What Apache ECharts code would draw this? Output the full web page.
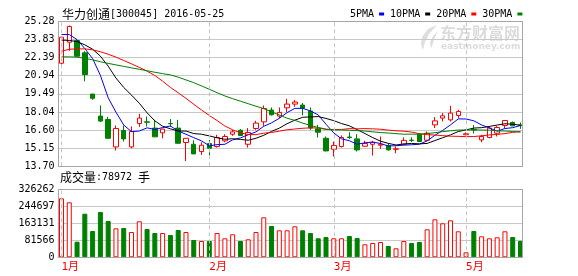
<!DOCTYPE html>
<html><head><meta charset="utf-8">
<script src="https://cdn.jsdelivr.net/npm/echarts@6/dist/echarts.min.js"></script>
<style>html,body{margin:0;padding:0;background:#fff}#c{width:578px;height:276px}</style>
</head><body><div id="c"></div>
<script>
// ---------- data ----------
const dates = [
 '2016-01-05','2016-01-06','2016-01-07','2016-01-08','2016-01-11','2016-01-12','2016-01-13','2016-01-14','2016-01-15','2016-01-18',
 '2016-01-19','2016-01-20','2016-01-21','2016-01-22','2016-01-25','2016-01-26','2016-01-27','2016-01-28','2016-01-29',
 '2016-02-01','2016-02-02','2016-02-03','2016-02-04','2016-02-05','2016-02-15','2016-02-16','2016-02-17','2016-02-18','2016-02-19',
 '2016-02-22','2016-02-23','2016-02-24','2016-02-25','2016-02-26','2016-02-29',
 '2016-03-01','2016-03-02','2016-03-03','2016-03-04','2016-03-07','2016-03-08','2016-03-09','2016-03-10','2016-03-11','2016-03-14',
 '2016-03-15','2016-03-16','2016-03-17','2016-03-18','2016-03-21','2016-03-22','2016-03-23',
 '2016-05-16','2016-05-17','2016-05-18','2016-05-19','2016-05-20','2016-05-23','2016-05-24','2016-05-25'
];
const opens = [21.93,23.61,23.74,22.76,19.47,17.71,17.44,15.25,16.56,15.25,
 17.12,17.25,16.75,16.37,17.12,16.75,15.60,15.46,14.88,15.52,
 15.28,15.73,16.26,16.58,15.46,16.72,17.25,18.19,17.71,18.37,
 18.67,18.59,18.11,16.69,15.94,15.06,15.28,16.04,15.89,15.30,
 15.46,15.38,15.36,15.06,15.46,15.79,16.26,15.78,17.01,17.55,
 17.41,17.76,16.22,16.64,15.81,16.00,16.34,16.96,17.20,17.00];
const closes = [24.01,24.86,22.49,21.02,19.13,17.31,15.94,16.72,15.89,16.48,
 17.55,17.22,16.05,16.67,17.10,15.54,15.94,14.69,15.38,15.14,
 16.00,16.08,16.45,16.16,16.40,17.15,18.32,17.81,18.00,18.67,
 18.83,18.35,16.75,16.42,14.93,15.36,16.00,16.00,15.01,15.52,
 15.62,15.46,15.01,15.10,15.77,15.76,15.68,16.34,17.33,17.73,
 17.95,18.08,16.30,16.60,16.08,16.75,16.80,17.36,16.93,16.96];
const lows = [21.82,22.92,22.45,20.49,19.01,17.25,15.90,14.96,15.68,15.14,
 16.85,16.88,16.05,15.94,16.85,15.50,14.12,14.69,14.61,14.56,
 15.20,15.62,16.13,16.14,15.20,16.61,16.93,17.76,17.55,18.03,
 18.45,17.76,16.61,16.00,14.90,14.48,15.20,15.89,14.88,15.28,
 14.56,15.09,14.96,14.74,15.44,15.65,15.66,15.73,16.75,17.28,
 17.28,17.55,16.18,16.32,15.62,15.94,16.08,16.75,16.90,16.69];
const highs = [24.05,24.95,23.85,22.89,19.47,18.56,17.65,16.96,16.96,16.88,
 17.89,17.68,17.41,16.70,17.47,17.41,15.96,15.78,15.62,15.81,
 16.21,16.26,16.61,16.67,16.75,17.33,18.56,18.40,18.40,19.09,
 18.99,18.75,18.40,17.01,16.08,15.68,16.16,16.42,16.26,15.73,
 15.73,16.08,15.54,15.28,16.01,16.02,16.34,16.48,17.63,17.95,
 18.53,18.21,16.40,17.00,16.21,16.88,16.91,17.39,17.28,17.20];
const volumes = [283000,263900,74900,209200,126200,217300,174200,139100,140600,121400,
 172700,135800,116600,116600,107000,131000,121400,83000,78200,78200,
 116600,91200,110400,78200,86400,121400,191900,150200,129500,129500,
 148700,129500,116600,91200,97400,91200,91200,102200,92600,62400,
 68600,73400,54200,43200,78200,68600,73400,134300,182300,163100,
 177500,124700,24000,126200,100800,91200,96000,124700,97400,78972];
// moving-average values before enough closes exist in the window
const ma5Head = [24.22,24.22,23.82,23.10];
const ma10Head = [23.78,23.75,23.66,23.40,23.05,22.50,21.70,20.75,20.00];
const ma20Head = [22.89,23.05,23.08,23.08,23.00,22.85,22.65,22.42,22.15,21.88,21.60,21.30,20.95,20.50,20.00,19.57,19.13,18.65,18.20];
const ma30Head = [22.44,22.44,22.42,22.32,22.20,22.05,21.92,21.80,21.68,21.56,21.45,21.33,21.21,21.10,21.00,20.82,20.60,20.38,20.12,19.85,19.58,19.32,19.10,18.90,18.70,18.50,18.30,18.05,17.80];
const priceTicks = ['13.70','15.15','16.60','18.04','19.49','20.94','22.39','23.83','25.28'];
const volumeTicks = ['0','81566','163131','244697','326262'];
const monthStarts = ['2016-01-05','2016-02-01','2016-03-01','2016-05-16'];
const monthNames = ['1月','2月','3月','5月'];
const maNames = ['5PMA','10PMA','20PMA','30PMA'];
const stockName = '华力创通';
const stockInfo = '[300045] 2016-05-25';
const lastVolume = 78972;

// ---------- build ----------
const pMin = parseFloat(priceTicks[0]);
const pMax = parseFloat(priceTicks[priceTicks.length - 1]);
const pStep = (pMax - pMin) / (priceTicks.length - 1);
const vMax = parseFloat(volumeTicks[volumeTicks.length - 1]);
const vStep = vMax / (volumeTicks.length - 1);

function movingAvg(n, head) {
  return closes.map((c, i) => {
    if (i < n - 1) return head[i];
    let s = 0; for (let k = i - n + 1; k <= i; k++) s += closes[k];
    return s / n;
  });
}
const shift = v => +(v - pMin).toFixed(4);
const candleData = dates.map((d, i) => [shift(opens[i]), shift(closes[i]), shift(lows[i]), shift(highs[i])]);
const maSets = [movingAvg(5, ma5Head), movingAvg(10, ma10Head), movingAvg(20, ma20Head), movingAvg(30, ma30Head)];
const maColors = ['#0000ff', '#000000', '#ff0000', '#008000'];
const volData = volumes.map((v, i) => ({
  value: v,
  itemStyle: closes[i] >= opens[i]
    ? { color: '#ffffff', borderColor: '#ff0000', borderWidth: 1 }
    : { color: '#008000', borderColor: '#008000', borderWidth: 1 }
}));
const monthLines = {
  silent: true, symbol: ['none', 'none'], animation: false,
  label: { show: false },
  lineStyle: { color: '#c4c4c4', type: [4, 3], width: 1 },
  emphasis: { disabled: true },
  data: monthStarts.map(m => ({ xAxis: m }))
};

const GL = 57.6, GR = 53.6;
const mono = "'DejaVu Sans Mono', monospace";

const series = [
  {
    type: 'candlestick', name: 'K', xAxisIndex: 0, yAxisIndex: 0, data: candleData, barWidth: 5,
    itemStyle: { color: '#ffffff', color0: '#008000', borderColor: '#ff0000', borderColor0: '#008000', borderWidth: 1 },
    markLine: monthLines, z: 2
  },
  {
    type: 'bar', name: 'VOL', xAxisIndex: 1, yAxisIndex: 1, data: volData, barWidth: 5,
    markLine: monthLines
  }
];
maNames.forEach((nm, k) => {
  series.push({
    type: 'line', name: nm, xAxisIndex: 0, yAxisIndex: 0,
    data: maSets[k].map(shift), showSymbol: false, symbol: 'none',
    color: maColors[k], itemStyle: { color: maColors[k] },
    lineStyle: { color: maColors[k], width: 1 }, z: 3
  });
});

const chart = echarts.init(document.getElementById('c'), null, { renderer: 'canvas' });
chart.setOption({
  animation: false,
  backgroundColor: '#ffffff',
  legend: {
    data: maNames, left: 350, top: 9, padding: 0, align: 'right', icon: 'rect',
    itemWidth: 5, itemHeight: 3, itemGap: 6, selectedMode: false,
    textStyle: { fontFamily: mono, fontSize: 10, color: '#000' }
  },
  grid: [
    { left: GL, right: GR, top: 21.3, height: 145 },
    { left: GL, right: GR, top: 189.3, height: 68 }
  ],
  xAxis: [
    { type: 'category', gridIndex: 0, data: dates, boundaryGap: true,
      axisLine: { show: false }, axisTick: { show: false }, axisLabel: { show: false }, splitLine: { show: false } },
    { type: 'category', gridIndex: 1, data: dates, boundaryGap: true,
      axisLine: { show: false }, axisTick: { show: false }, splitLine: { show: false },
      axisLabel: {
        interval: (idx, val) => monthStarts.indexOf(val) >= 0,
        formatter: val => monthNames[monthStarts.indexOf(val)],
        color: '#ff0000', fontSize: 11, fontFamily: mono + ", 'Noto Sans CJK SC'", align: 'left', margin: 4
      } }
  ],
  yAxis: [
    { type: 'value', gridIndex: 0, min: 0, max: +(pMax - pMin).toFixed(4), interval: pStep,
      axisLine: { show: false }, axisTick: { show: false },
      axisLabel: { formatter: v => priceTicks[Math.round(v / pStep)], fontFamily: mono, fontSize: 10, color: '#000', margin: 3, padding: [0, 0, 6, 0] },
      splitLine: { lineStyle: { color: '#c8c8c8', width: 1 } } },
    { type: 'value', gridIndex: 1, min: 0, max: vMax, interval: vStep,
      axisLine: { show: false }, axisTick: { show: false },
      axisLabel: { formatter: v => volumeTicks[Math.round(v / vStep)], fontFamily: mono, fontSize: 10, color: '#000', margin: 3, padding: [5, 0, 0, 0] },
      splitLine: { lineStyle: { color: '#c8c8c8', width: 1 } } }
  ],
  graphic: [
    { type: 'polygon', z: 0, silent: true,
      shape: { points: [[437,25],[428,29],[422,37],[421,44],[423,50],[425,42],[429,34]] },
      style: { fill: '#dedede' } },
    { type: 'polygon', z: 0, silent: true,
      shape: { points: [[438,31],[433,36],[430,42],[431,49],[433,43],[435,37]] },
      style: { fill: '#dedede' } },
    { type: 'text', z: 0, silent: true, x: 440, y: 33,
      style: { text: '东方财富网', font: "bold 16px 'Noto Sans CJK SC'", fill: '#dcdcdc', textAlign: 'left', textVerticalAlign: 'middle' } },
    { type: 'text', z: 0, silent: true, x: 441, y: 47,
      style: { text: 'eastmoney.com', font: "bold 9px 'DejaVu Sans'", fill: '#dcdcdc', textAlign: 'left', textVerticalAlign: 'middle' } },
    { type: 'text', x: 62, y: 14.7,
      style: { text: stockName, font: "12px 'Noto Sans CJK SC'", fill: '#000', textAlign: 'left', textVerticalAlign: 'middle' } },
    { type: 'text', x: 110, y: 14.7,
      style: { text: stockInfo, font: "10px 'DejaVu Sans Mono'", fill: '#000', textAlign: 'left', textVerticalAlign: 'middle' } },
    { type: 'text', x: 60, y: 177.5,
      style: { text: '成交量', font: "12px 'Noto Sans CJK SC'", fill: '#000', textAlign: 'left', textVerticalAlign: 'middle' } },
    { type: 'text', x: 96, y: 177.5,
      style: { text: ':' + lastVolume, font: "10px 'DejaVu Sans Mono'", fill: '#000', textAlign: 'left', textVerticalAlign: 'middle' } },
    { type: 'text', x: 138, y: 177.5,
      style: { text: '手', font: "12px 'Noto Sans CJK SC'", fill: '#000', textAlign: 'left', textVerticalAlign: 'middle' } },
    { type: 'rect', z: 100, silent: true, shape: { x: 523, y: 19, width: 12, height: 246 }, style: { fill: '#ffffff' } },
    { type: 'rect', z: 101, silent: true, shape: { x: 58.5, y: 21.5, width: 464, height: 145 }, style: { fill: 'none', stroke: '#a6a6a6', lineWidth: 1 } },
    { type: 'rect', z: 101, silent: true, shape: { x: 58.5, y: 189.5, width: 464, height: 68 }, style: { fill: 'none', stroke: '#a6a6a6', lineWidth: 1 } }
  ],
  series: series
});
</script>
</body></html>
